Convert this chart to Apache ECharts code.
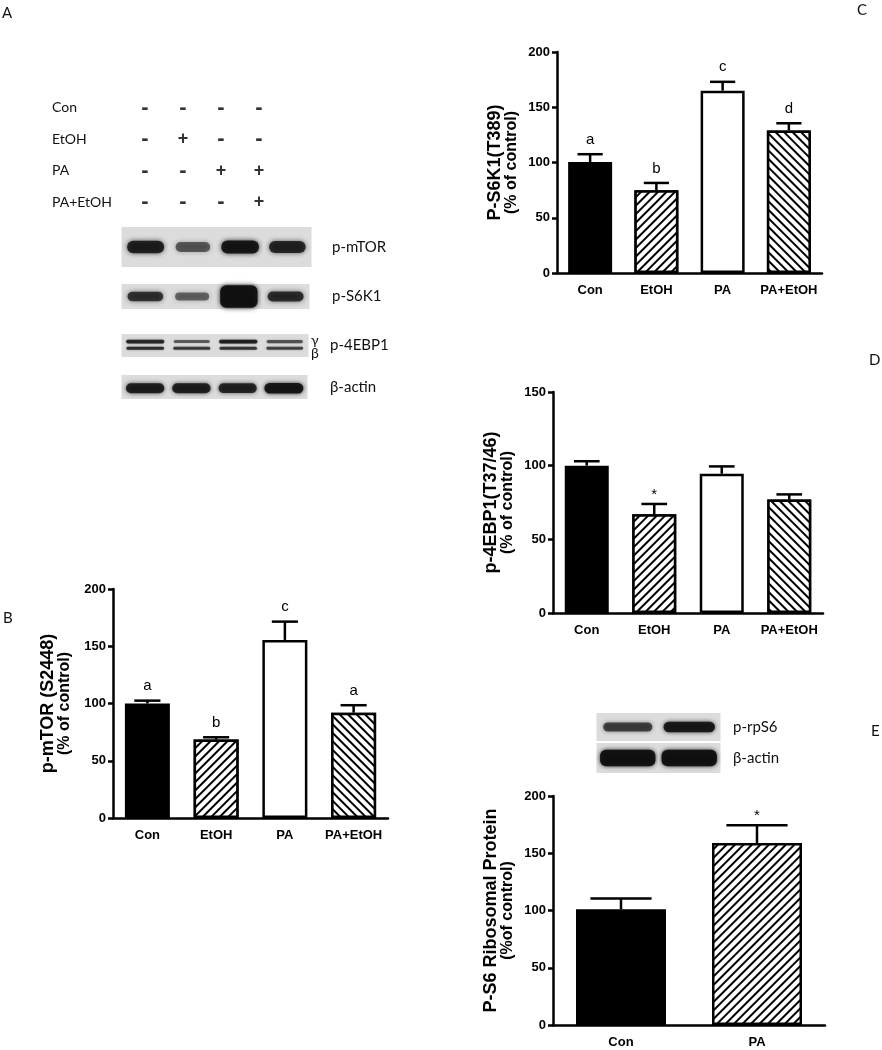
<!DOCTYPE html>
<html><head><meta charset="utf-8">
<script src="https://cdn.jsdelivr.net/npm/echarts@6/dist/echarts.min.js"></script>
<style>html,body{margin:0;padding:0;background:#fff}#c{width:882px;height:1050px}</style>
</head><body><div id="c"></div>
<script>
// ---------------- DATA ----------------
const groups4 = ['Con', 'EtOH', 'PA', 'PA+EtOH'];
const groups2 = ['Con', 'PA'];

const mtorValues = [100, 68.5, 155.5, 92];
const mtorErrors = [2.5, 2, 16, 6.5];
const mtorMarks = ['a', 'b', 'c', 'a'];

const s6k1Values = [100.5, 75, 165, 129];
const s6k1Errors = [7, 6.5, 8, 6.5];
const s6k1Marks = ['a', 'b', 'c', 'd'];

const ebp1Values = [100, 67, 94.5, 77];
const ebp1Errors = [3, 7, 5, 3.5];
const ebp1Marks = ['', '*', '', ''];

const s6Values = [101, 159];
const s6Errors = [9.5, 15.5];
const s6Marks = ['', '*'];

const yMax200 = 200, yMax150 = 150, yStep = 50;

const treatmentRows = ['Con', 'EtOH', 'PA', 'PA+EtOH'];
const treatmentSigns = [
  ['-', '-', '-', '-'],
  ['-', '+', '-', '-'],
  ['-', '-', '+', '+'],
  ['-', '-', '-', '+']
];
const lanes4 = ['1', '2', '3', '4'];
const lanes2 = ['1', '2'];
const bandMTOR = [0.85, 0.45, 0.95, 0.8];
const bandS6K1 = [0.7, 0.4, 1.0, 0.75];
const band4EBP1Gamma = [0.75, 0.4, 0.8, 0.45];
const band4EBP1Beta = [0.7, 0.6, 0.65, 0.55];
const bandActinA = [0.85, 0.85, 0.8, 0.95];
const bandRpS6 = [0.6, 0.9];
const bandActinE = [1, 1];

// ---------------- STYLE ----------------
const AX = '"Liberation Sans", Arial, sans-serif';
const CAL = 'Lato, "Open Sans", sans-serif';
const fillsB = ['solid', 'fwd', 'open', 'back'];
const fillsE = ['solid', 'fwd'];

function decal(dir) {
  return { symbol: 'rect', symbolSize: 1, dashArrayX: [1, 0], dashArrayY: [1.8, 3.2],
    rotation: dir === 'fwd' ? -Math.PI / 4 : Math.PI / 4, color: '#000', backgroundColor: '#fff' };
}
function barData(values, fills) {
  return values.map((v, i) => {
    const f = fills[i];
    const st = { color: f === 'solid' ? '#000' : '#fff', borderColor: '#000', borderWidth: 2.5 };
    if (f === 'fwd' || f === 'back') st.decal = decal(f);
    return { value: v, itemStyle: st };
  });
}
function errSeries(gi, values, errors, marks, capFrac) {
  return {
    type: 'custom', xAxisIndex: gi, yAxisIndex: gi, z: 5,
    data: values.map((v, i) => [i, v, errors[i]]),
    renderItem(params, api) {
      const i = api.value(0), v = api.value(1), e = api.value(2);
      const p0 = api.coord([i, v]), p1 = api.coord([i, v + e]);
      const half = api.size([1, 0])[0] * capFrac / 2;
      const children = [
        { type: 'line', shape: { x1: p0[0], y1: p0[1], x2: p1[0], y2: p1[1] }, style: { stroke: '#000', lineWidth: 2.5 } },
        { type: 'line', shape: { x1: p1[0] - half, y1: p1[1], x2: p1[0] + half, y2: p1[1] }, style: { stroke: '#000', lineWidth: 2.5 } }
      ];
      const m = marks[params.dataIndex];
      if (m) {
        children.push({ type: 'text', style: { text: m, x: p1[0], y: p1[1] - (m === '*' ? 2 : 7),
          align: 'center', verticalAlign: 'bottom', font: '15px ' + AX, fill: '#000' } });
      }
      return { type: 'group', children };
    }
  };
}
function barX(gi, cats) {
  return { gridIndex: gi, type: 'category', data: cats,
    axisLine: { lineStyle: { color: '#000', width: 2.5 } }, axisTick: { show: false },
    axisLabel: { interval: 0, color: '#000', fontFamily: AX, fontWeight: 'bold', fontSize: 13, margin: 11 } };
}
function barY(gi, max, title, sub, gap) {
  return { gridIndex: gi, type: 'value', min: 0, max: max, interval: yStep,
    axisLine: { show: true, lineStyle: { color: '#000', width: 2.5 } },
    axisTick: { show: true, length: 5, lineStyle: { color: '#000', width: 2.5 } },
    splitLine: { show: false },
    axisLabel: { color: '#000', fontFamily: AX, fontWeight: 'bold', fontSize: 13, margin: 7 },
    name: '{t|' + title + '}\n{s|' + sub + '}', nameLocation: 'middle', nameGap: gap, nameRotate: 90,
    nameTextStyle: { rich: {
      t: { fontFamily: AX, fontWeight: 'bold', fontSize: 18, lineHeight: 17, color: '#000' },
      s: { fontFamily: AX, fontWeight: 'bold', fontSize: 16, lineHeight: 16, color: '#000' } } } };
}
function barSeries(gi, values, fills, w) {
  return { type: 'bar', xAxisIndex: gi, yAxisIndex: gi, barWidth: w, data: barData(values, fills), z: 2 };
}

// blot helpers
function blotAxes(gi, lanes, label, margin) {
  return [
    { gridIndex: gi, type: 'category', data: lanes, show: false },
    { gridIndex: gi, type: 'category', data: [label], position: 'right',
      axisLine: { show: false }, axisTick: { show: false },
      axisLabel: { color: '#111', fontFamily: CAL, fontSize: 15, margin: margin } }
  ];
}
function blotSeries(gi, bands, opts) {
  return {
    type: 'custom', xAxisIndex: gi, yAxisIndex: gi,
    data: bands[0].map((_, i) => [i, 0].concat(bands.map(b => b[i]))),
    renderItem(params, api) {
      const i = api.value(0);
      const c = api.coord([i, 0]);
      const sz = api.size([1, 1]);
      const W = sz[0], H = sz[1];
      const ch = [{ type: 'rect', shape: { x: c[0] - W / 2 - 0.5, y: c[1] - H / 2, width: W + 1, height: H },
        style: { fill: '#dcdcdc' } }];
      bands.forEach((b, k) => {
        const t = api.value(2 + k);
        const cy = c[1] + H * opts.pos[k];
        let bh = H * opts.h[k] * (0.55 + 0.45 * t) + (opts.fullAt && t >= 1 ? H * 0.45 : 0);
        bh = Math.min(bh, H * 0.96);
        const bw = W * opts.w * (0.85 + 0.15 * t);
        const a = 0.25 + 0.7 * t;
        ch.push({ type: 'rect', shape: { x: c[0] - bw / 2, y: cy - bh / 2, width: bw, height: bh, r: Math.min(bh / 2, 6) },
          style: { fill: 'rgba(15,15,15,' + a + ')', shadowBlur: opts.blur, shadowColor: 'rgba(15,15,15,' + a + ')' } });
      });
      return { type: 'group', children: ch };
    }
  };
}

// ---------------- LAYOUT ----------------
const grids = [
  { left: 113, top: 589, width: 275, height: 229 },  // 0 B
  { left: 557, top: 52, width: 265, height: 221 },   // 1 C
  { left: 553, top: 392, width: 270, height: 221 },  // 2 D
  { left: 553, top: 796, width: 272, height: 229 },  // 3 E
  { left: 126, top: 92, width: 152, height: 126 },   // 4 signs
  { left: 122, top: 227, width: 189, height: 40 },   // 5 p-mTOR
  { left: 122, top: 284, width: 187, height: 25 },   // 6 p-S6K1
  { left: 122, top: 334, width: 186, height: 23 },   // 7 p-4EBP1
  { left: 122, top: 375, width: 185, height: 24 },   // 8 actin A
  { left: 597, top: 713, width: 123, height: 28 },   // 9 p-rpS6
  { left: 597, top: 743, width: 123, height: 30 }    // 10 actin E
];

const xAxes = [barX(0, groups4), barX(1, groups4), barX(2, groups4), barX(3, groups2),
  { gridIndex: 4, type: 'category', data: lanes4, show: false }];
const yAxes = [
  barY(0, yMax200, 'p-mTOR (S2448)', '(% of control)', 40),
  barY(1, yMax200, 'P-S6K1(T389)', '(% of control)', 37),
  barY(2, yMax150, 'p-4EBP1(T37/46)', '(% of control)', 37),
  barY(3, yMax200, 'P-S6 Ribosomal Protein', '(%of control)', 37),
  { gridIndex: 4, type: 'category', data: treatmentRows, inverse: true,
    axisLine: { show: false }, axisTick: { show: false },
    axisLabel: { color: '#111', fontFamily: CAL, fontSize: 14, align: 'left', margin: 74 } }
];
[[5, lanes4, 'p-mTOR', 21], [6, lanes4, 'p-S6K1', 23], [7, lanes4, 'p-4EBP1', 22], [8, lanes4, 'β-actin', 23],
 [9, lanes2, 'p-rpS6', 13], [10, lanes2, 'β-actin', 13]].forEach(([g, l, n, m]) => {
  const ax = blotAxes(g, l, n, m); xAxes.push(ax[0]); yAxes.push(ax[1]);
});

const signData = [];
treatmentSigns.forEach((row, r) => row.forEach((s, l) => signData.push({
  value: [l, r],
  label: { fontSize: s === '-' ? 22 : 18 }
})));

const series = [
  barSeries(0, mtorValues, fillsB, 45), errSeries(0, mtorValues, mtorErrors, mtorMarks, 0.38),
  barSeries(1, s6k1Values, fillsB, 44), errSeries(1, s6k1Values, s6k1Errors, s6k1Marks, 0.38),
  barSeries(2, ebp1Values, fillsB, 44), errSeries(2, ebp1Values, ebp1Errors, ebp1Marks, 0.38),
  barSeries(3, s6Values, fillsE, 90), errSeries(3, s6Values, s6Errors, s6Marks, 0.45),
  { type: 'scatter', xAxisIndex: 4, yAxisIndex: 4, symbolSize: 0, data: signData,
    label: { show: true, position: 'inside', color: '#000', fontFamily: AX, fontWeight: 'bold',
      formatter: p => treatmentSigns[p.value[1]][p.value[0]] } },
  blotSeries(5, [bandMTOR], { pos: [0], h: [0.33], w: 0.8, blur: 5 }),
  blotSeries(6, [bandS6K1], { pos: [0], h: [0.45], w: 0.8, blur: 5, fullAt: true }),
  blotSeries(7, [band4EBP1Gamma, band4EBP1Beta], { pos: [-0.17, 0.12], h: [0.18, 0.16], w: 0.85, blur: 2 }),
  blotSeries(8, [bandActinA], { pos: [0.05], h: [0.45], w: 0.85, blur: 4 }),
  blotSeries(9, [bandRpS6], { pos: [0], h: [0.4], w: 0.85, blur: 4 }),
  blotSeries(10, [bandActinE], { pos: [0], h: [0.55], w: 0.9, blur: 4 })
];

const letter = (t, x, y) => ({ type: 'text', left: x, top: y, style: { text: t, font: '15px ' + CAL, fill: '#111' } });
const chart = echarts.init(document.getElementById('c'), null, { renderer: 'canvas' });
chart.setOption({
  animation: false,
  backgroundColor: '#fff',
  grid: grids,
  xAxis: xAxes,
  yAxis: yAxes,
  series: series,
  graphic: [
    letter('A', 2, 6), letter('B', 3, 611), letter('C', 857, 3), letter('D', 869, 353), letter('E', 871, 724),
    { type: 'text', left: 311, top: 333, style: { text: 'γ', font: '14px ' + CAL, fill: '#111' } },
    { type: 'text', left: 311, top: 346, style: { text: 'β', font: '14px ' + CAL, fill: '#111' } }
  ]
});
</script></body></html>
